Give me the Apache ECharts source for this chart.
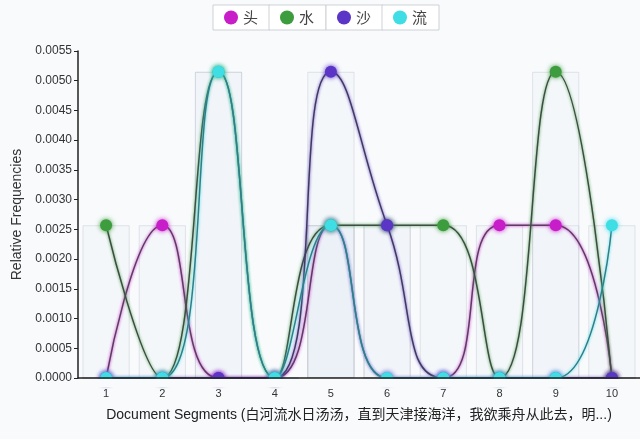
<!DOCTYPE html>
<html><head><meta charset="utf-8">
<script src="https://cdn.jsdelivr.net/npm/echarts@6/dist/echarts.min.js"></script>
<style>html,body{margin:0;padding:0;background:#f8fafc}#c{width:640px;height:439px}</style>
</head><body><div id="c"></div>
<script>
// ---- data ----
const segments = ['1','2','3','4','5','6','7','8','9','10'];
const names = ['头','水','沙','流'];
const tou  = [0, 0.00257, 0, 0, 0.00257, 0, 0, 0.00257, 0.00257, 0];
const shui = [0.00257, 0, 0.00515, 0, 0.00257, 0.00257, 0.00257, 0, 0.00515, 0];
const sha  = [0, 0, 0, 0, 0.00515, 0.00257, 0, 0, 0, 0];
const liu  = [0, 0, 0.00515, 0, 0.00257, 0, 0, 0, 0, 0.00257];
const yMin = 0, yMax = 0.0055, yStep = 0.0005;
const xTitle = 'Document Segments (白河流水日汤汤，直到天津接海洋，我欲乘舟从此去，明...)';
const yTitle = 'Relative Frequencies';

// ---- styles ----
const values = [tou, shui, sha, liu];
const dotColors = ['#c71ec9', '#3d9c3d', '#5a35c6', '#3fdde4'];
const lineColors = ['#5b3d60', '#3f4c45', '#3f3b5c', '#2f7f88'];
const legendLeft = [213, 269, 326, 382];
const bg = '#f8fafc';
const gridBox = {left: 78, right: 0, top: 51, bottom: 61};

const chart = echarts.init(document.getElementById('c'));
const series = [];
values.forEach((v, i) => {
  series.push({
    name: 'bar' + i, type: 'bar', data: v, barWidth: '84%', barGap: '-100%',
    silent: true, z: 1,
    itemStyle: {color: 'rgba(228,235,244,0.18)', borderColor: 'rgba(195,200,208,0.45)', borderWidth: 1}
  });
});
values.forEach((v, i) => {
  series.push({
    name: names[i], type: 'line', data: v, smooth: 0.5, symbol: 'circle', symbolSize: 12,
    z: 3 + i,
    itemStyle: {color: dotColors[i], shadowColor: dotColors[i], shadowBlur: 5},
    lineStyle: {color: lineColors[i], width: 1.5, shadowColor: dotColors[i], shadowBlur: 3}
  });
});

const axisZ = 12;
chart.setOption({
  backgroundColor: bg,
  animation: false,
  legend: names.map((n, i) => ({
    left: legendLeft[i], top: 5,
    data: [{name: n, icon: 'circle', itemStyle: {color: dotColors[i]}}],
    itemWidth: 14, itemHeight: 14, itemGap: 0,
    padding: [5, 12, 5, 11],
    borderColor: '#cdd1d6', borderWidth: 1, backgroundColor: '#ffffff',
    textStyle: {fontSize: 15, color: '#444', fontFamily: 'Noto Sans CJK SC'}
  })),
  grid: Object.assign({containLabel: false}, gridBox),
  xAxis: {
    type: 'category', data: segments, boundaryGap: true, z: axisZ,
    axisLine: {lineStyle: {color: '#222', width: 1.5}},
    axisTick: {alignWithLabel: true, length: 5, lineStyle: {color: '#222'}},
    axisLabel: {fontSize: 11, color: '#333', margin: 10, fontFamily: 'Liberation Sans'},
    name: xTitle, nameLocation: 'middle', nameGap: 30,
    nameTextStyle: {fontSize: 14, color: '#222', fontFamily: 'Liberation Sans, Noto Sans CJK SC'}
  },
  yAxis: {
    type: 'value', min: yMin, max: yMax, interval: yStep, z: axisZ,
    axisLine: {show: true, lineStyle: {color: '#222', width: 1.5}},
    axisTick: {show: true, length: 4, lineStyle: {color: '#222'}},
    splitLine: {show: false},
    axisLabel: {fontSize: 12, color: '#333', margin: 6, fontFamily: 'Liberation Sans',
      formatter: v => v.toFixed(4)},
    name: yTitle, nameLocation: 'middle', nameGap: 44, nameRotate: 90,
    nameTextStyle: {fontSize: 14, color: '#333', fontFamily: 'Liberation Sans'}
  },
  series: series
});

// mask the part of the markers that falls below the x axis (plot area clipping)
const base = chart.convertToPixel({gridIndex: 0}, [0, yMin]);
chart.setOption({
  graphic: [{
    type: 'rect', z: axisZ - 1, silent: true,
    shape: {x: gridBox.left + 1, y: base[1] + 1, width: 640 - gridBox.left, height: 8},
    style: {fill: bg}
  }]
});
</script></body></html>
